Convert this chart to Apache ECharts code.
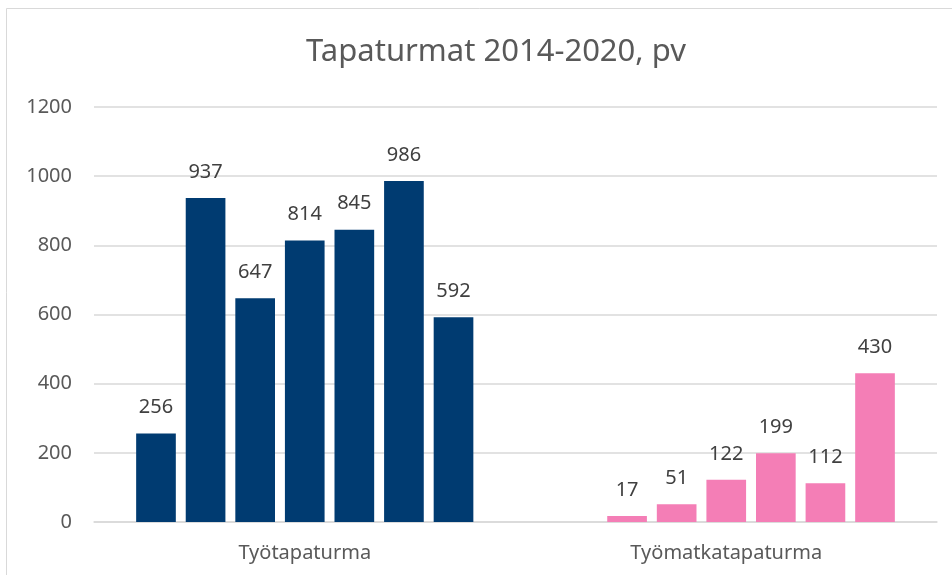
<!DOCTYPE html>
<html>
<head>
<meta charset="utf-8">
<script src="https://cdn.jsdelivr.net/npm/echarts@6/dist/echarts.min.js"></script>
<style>
  html, body { margin: 0; padding: 0; background: #fff; }
  #chart { width: 952px; height: 575px; }
</style>
</head>
<body>
<div id="chart"></div>
<script>
var categories = ['Työtapaturma', 'Työmatkatapaturma'];
var years = ['2014', '2015', '2016', '2017', '2018', '2019', '2020'];
// arvot vuosittain, 2014 puuttuu työmatkoilta
var tyoValues = [256, 937, 647, 814, 845, 986, 592];
var matkaValues = ['-', 17, 51, 122, 199, 112, 430];
var yTicks = [0, 200, 400, 600, 800, 1000, 1200];

var groupColors = ['#003B71', '#F47EB6'];

var chart = echarts.init(document.getElementById('chart'));

var series = years.map(function (y, i) {
    return {
        name: y,
        type: 'bar',
        data: [tyoValues[i], matkaValues[i]],
        barGap: '25%',
        barCategoryGap: '20%',
        itemStyle: {
            color: function (p) { return groupColors[p.dataIndex]; }
        },
        label: {
            show: true,
            position: 'top',
            distance: 16,
            color: '#404040',
            fontSize: 20,
            fontFamily: 'Noto Sans'
        }
    };
});

var option = {
    backgroundColor: '#fff',
    animation: false,
    title: {
        text: 'Tapaturmat 2014-2020, pv',
        left: 491,
        top: 32,
        textAlign: 'center',
        textStyle: {
            color: '#595959',
            fontSize: 31,
            fontWeight: 'normal',
            fontFamily: 'Noto Sans'
        }
    },
    graphic: [{
        type: 'rect',
        shape: { x: 6.5, y: 8.5, width: 980, height: 600 },
        style: { fill: 'none', stroke: '#d9d9d9', lineWidth: 1 },
        silent: true
    }],
    grid: { left: 94, right: 15, top: 107, bottom: 53 },
    xAxis: {
        type: 'category',
        data: categories,
        axisTick: { show: false },
        axisLine: { lineStyle: { color: '#d9d9d9', width: 1.5 } },
        axisLabel: {
            color: '#595959',
            fontSize: 20,
            fontFamily: 'Noto Sans',
            margin: 21
        }
    },
    yAxis: {
        type: 'value',
        min: yTicks[0],
        max: yTicks[yTicks.length - 1],
        interval: 200,
        axisLine: { show: false },
        axisTick: { show: false },
        splitLine: { lineStyle: { color: '#d9d9d9', width: 1.5 } },
        axisLabel: {
            color: '#595959',
            fontSize: 20,
            fontFamily: 'Noto Sans',
            margin: 22,
            formatter: function (v) { return String(v); }
        }
    },
    series: series
};

chart.setOption(option);
</script>
</body>
</html>
